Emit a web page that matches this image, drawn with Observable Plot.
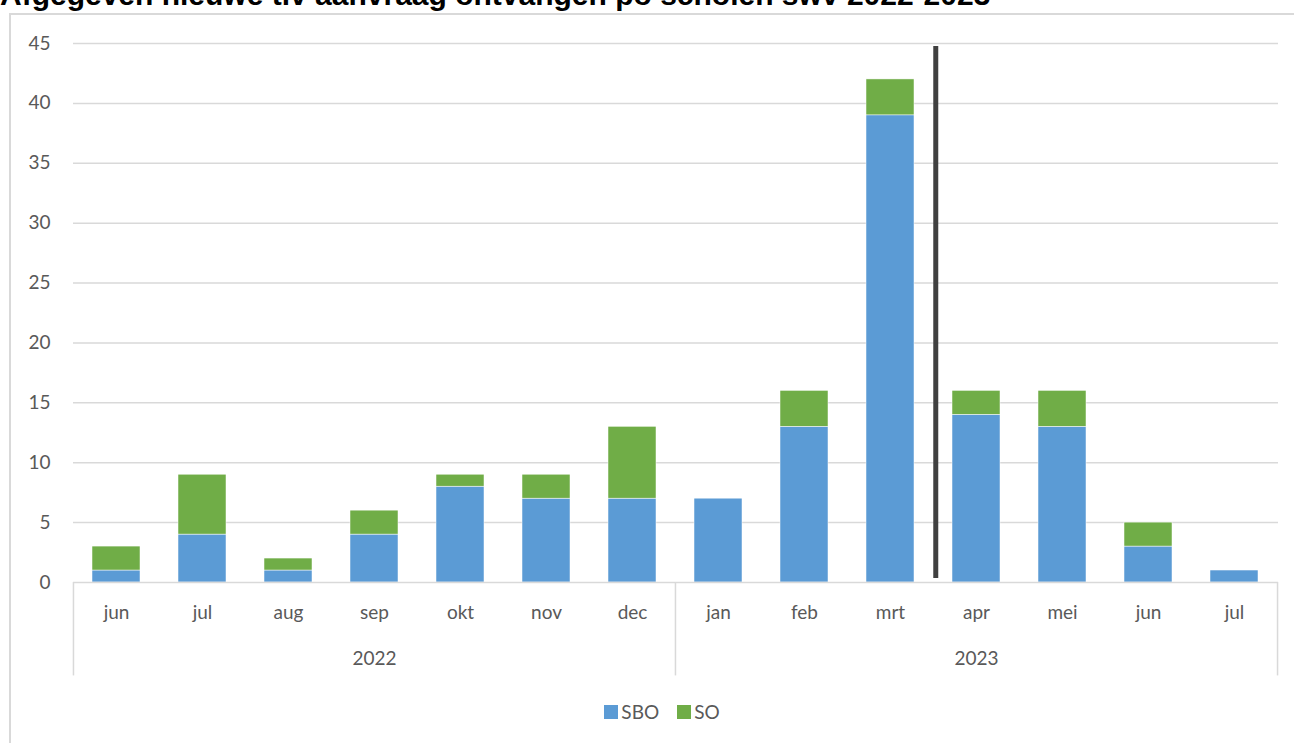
<!DOCTYPE html>
<html>
<head>
<meta charset="utf-8">
<script src="https://cdn.jsdelivr.net/npm/d3@7"></script>
<script src="https://cdn.jsdelivr.net/npm/@observablehq/plot@0.6"></script>
<style>
  html, body { margin: 0; padding: 0; background: #fff; overflow: hidden; }
  body { width: 1294px; height: 743px; position: relative; font-family: Lato, "Open Sans", sans-serif; }
  #title { position: absolute; left: 0; top: -20px; font: bold 30px/30px "Liberation Sans", Arial, sans-serif; color: #000; white-space: nowrap; }
  #frame { position: absolute; left: 9px; top: 13px; width: 1300px; height: 800px; border-left: 2px solid #d9d9d9; border-top: 2px solid #d9d9d9; box-sizing: border-box; }
  #chart { position: absolute; left: 0; top: 0; }
  #legend { position: absolute; top: 700px; left: 0; width: 1294px; display: flex; justify-content: center; gap: 18px; font: 19px Lato, sans-serif; color: #595959; padding-left: 30px; box-sizing: border-box; }
  .item { display: flex; align-items: center; gap: 3px; }
  .sw { width: 14px; height: 14px; display: inline-block; }
</style>
</head>
<body>
<div id="title">Afgegeven nieuwe tlv aanvraag ontvangen po scholen swv 2022-2023</div>
<div id="frame"></div>
<div id="chart"></div>
<div id="legend"></div>
<script>
// Data
const keys = ["2022-jun","2022-jul","2022-aug","2022-sep","2022-okt","2022-nov","2022-dec",
              "2023-jan","2023-feb","2023-mrt","2023-apr","2023-mei","2023-jun","2023-jul"];
const monthLabels = ["jun","jul","aug","sep","okt","nov","dec","jan","feb","mrt","apr","mei","jun","jul"];
const sboValues = [1, 4, 1, 4, 8, 7, 7, 7, 13, 39, 14, 13, 3, 1];
const soValues  = [2, 5, 1, 2, 1, 2, 6, 0, 3, 3, 2, 3, 2, 0];
const seriesNames = ["SBO", "SO"];
const seriesColors = ["#5B9BD5", "#70AD47"];
const years = ["2022", "2023"];
const yearCenterKeys = ["2022-sep", "2023-apr"];
const yTicks = [0, 5, 10, 15, 20, 25, 30, 35, 40, 45];

const rows = [];
keys.forEach((k, i) => {
  rows.push({key: k, series: "SBO", value: sboValues[i]});
  rows.push({key: k, series: "SO", value: soValues[i]});
});
const labelOf = new Map(keys.map((k, i) => [k, monthLabels[i]]));

const W = 1294, H = 690;
const mL = 73, mR = 16, mT = 43, mB = H - 582;
const bw = (W - mL - mR) / keys.length;

const chart = Plot.plot({
  width: W,
  height: H,
  marginLeft: mL,
  marginRight: mR,
  marginTop: mT,
  marginBottom: mB,
  style: {fontFamily: "Lato, 'Open Sans', sans-serif", fontSize: "19px", color: "#595959", background: "transparent", overflow: "visible"},
  x: {domain: keys, paddingInner: 0.44, paddingOuter: 0.22, axis: null},
  y: {domain: [0, 45], ticks: yTicks, axis: null, label: null},
  color: {domain: seriesNames, range: seriesColors},
  marks: [
    Plot.gridY(yTicks.filter(d => d > 0), {stroke: "#d9d9d9", strokeOpacity: 1, strokeWidth: 1.5}),
    Plot.axisY({ticks: yTicks, tickSize: 0, tickPadding: 23, fill: "#595959", fontSize: 19, label: null}),
    Plot.barY(rows, {x: "key", y: "value", fill: "series", order: seriesNames, stroke: "white", strokeWidth: 0.5}),
    Plot.ruleY([0], {stroke: "#d9d9d9", strokeWidth: 1.5}),
    // multi-level category axis separators
    Plot.ruleX(["2022-jun", "2023-jan"], {x: d => d, dx: -bw / 2, y1: 0, y2: -7.8, stroke: "#d9d9d9", strokeWidth: 1.5}),
    Plot.ruleX(["2023-jul"], {x: d => d, dx: bw / 2, y1: 0, y2: -7.8, stroke: "#d9d9d9", strokeWidth: 1.5}),
    Plot.text(keys, {x: d => d, y: -2.5, text: d => labelOf.get(d), fill: "#595959", fontSize: 19}),
    Plot.text(years, {x: (d, i) => yearCenterKeys[i], y: -6.4, text: d => d, fill: "#595959", fontSize: 19}),
    // marker line between mrt and apr
    Plot.ruleX(["2023-apr"], {x: d => d, dx: -bw / 2 + 2.3, y1: 0.33, y2: 44.75, stroke: "#404040", strokeWidth: 5})
  ]
});
document.getElementById("chart").appendChild(chart);

const legend = document.getElementById("legend");
seriesNames.forEach((s, i) => {
  const item = document.createElement("span");
  item.className = "item";
  const sw = document.createElement("span");
  sw.className = "sw";
  sw.style.background = seriesColors[i];
  item.appendChild(sw);
  item.appendChild(document.createTextNode(s));
  legend.appendChild(item);
});
</script>
</body>
</html>
